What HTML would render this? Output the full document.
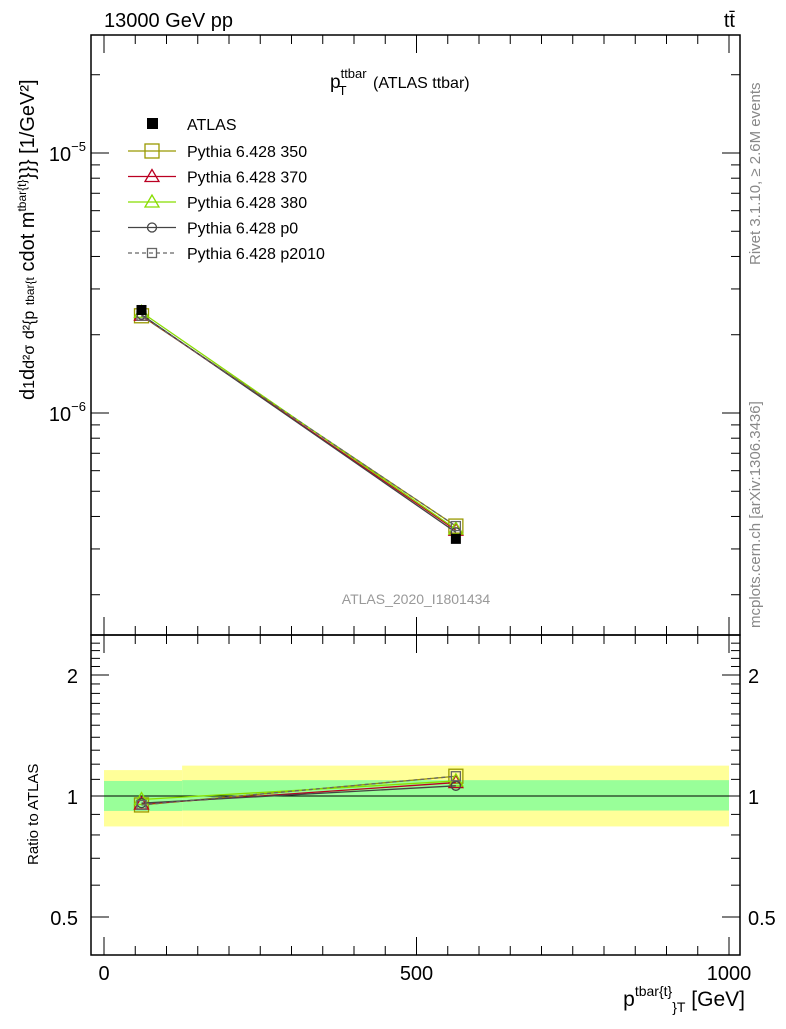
<!DOCTYPE html>
<html><head><meta charset="utf-8"><style>
body{margin:0;background:#fff;}
svg text{font-family:"Liberation Sans",sans-serif;}
</style></head><body>
<svg id="c" width="786" height="1024" xmlns="http://www.w3.org/2000/svg">
<g id="bands"></g>
<rect x="91" y="35" width="649" height="600" fill="none" stroke="#000" stroke-width="1.5"/>
<rect x="91" y="635" width="649" height="320" fill="none" stroke="#000" stroke-width="1.5"/>
<g id="ticks"></g>
<g id="series"></g>
<text x="104" y="27" font-size="20">13000 GeV pp</text>
<text x="735" y="27" font-size="20" text-anchor="end">tt̄</text>
<text x="330" y="88" font-size="19">p<tspan font-size="13" dy="-10">ttbar</tspan><tspan font-size="13" dx="-28" dy="17">T</tspan><tspan font-size="16" dx="22" dy="-7"> (ATLAS ttbar)</tspan></text>
<text x="416" y="604" font-size="14" fill="#999" text-anchor="middle">ATLAS_2020_I1801434</text>
<text transform="translate(760,265) rotate(-90)" font-size="15" fill="#888">Rivet 3.1.10, ≥ 2.6M events</text>
<text transform="translate(760,628) rotate(-90)" font-size="15" fill="#888">mcplots.cern.ch [arXiv:1306.3436]</text>
<text transform="translate(34,400) rotate(-90)" font-size="20">d<tspan font-size="16">1</tspan>d<tspan font-size="16">d²σ</tspan> <tspan font-size="16">d²{p</tspan> <tspan font-size="12">tbar{t</tspan>  cdot m<tspan font-size="12" dy="-8">tbar{t}</tspan><tspan dy="8">}}} [1/GeV²]</tspan></text>
<text transform="translate(38,865) rotate(-90)" font-size="15">Ratio to ATLAS</text>
<text x="745" y="1006" font-size="21" text-anchor="end">p<tspan font-size="14" dy="-10">tbar{t}</tspan><tspan font-size="14" dy="16">}</tspan><tspan font-size="14" dy="0">T</tspan><tspan dy="-6"> [GeV]</tspan></text>
<g id="legend"></g>
</svg>
<script>
const binEdges=[0,125,1000];
const xCenters=[60,563];
const atlas=[2.49e-6,3.28e-7];
const yellowLo=[0.84,0.84], yellowHi=[1.16,1.19];
const greenLo=[0.918,0.92], greenHi=[1.09,1.095];
const seriesNames=["Pythia 6.428 350","Pythia 6.428 370","Pythia 6.428 380","Pythia 6.428 p0","Pythia 6.428 p2010"];
const r350=[0.95,1.12], r370=[0.955,1.08], r380=[0.98,1.09], rp0=[0.96,1.06], rp2010=[0.95,1.12];
const yTickLabels=["10","10"];
const xTicks=[0,500,1000];
const ratioTicks=[0.5,1,2];

const NS="http://www.w3.org/2000/svg";
const X=v=>104+v*0.625;
const Y=v=>153-(Math.log10(v)+5)*260;
const R=v=>796-121*Math.log2(v);
function mk(t,a,p){const e=document.createElementNS(NS,t);for(const k in a)e.setAttribute(k,a[k]);(p||document.getElementById('c')).appendChild(e);return e;}
const B=document.getElementById('bands'),T=document.getElementById('ticks'),S=document.getElementById('series'),L=document.getElementById('legend');
for(let i=0;i<2;i++){
 const y=mk('rect',{x:X(binEdges[i]),y:R(yellowHi[i]),width:X(binEdges[i+1])-X(binEdges[i]),height:R(yellowLo[i])-R(yellowHi[i]),fill:'#ffff99'},B);
 
 
 const g=mk('rect',{x:X(binEdges[i]),y:R(greenHi[i]),width:X(binEdges[i+1])-X(binEdges[i]),height:R(greenLo[i])-R(greenHi[i]),fill:'#99ff99'},B);
 
 
}
mk('line',{x1:91,x2:740,y1:R(1),y2:R(1),stroke:'#000','stroke-width':1},B);
// y log ticks main
for(let d=-7;d<=-5;d++)for(let m=1;m<10;m++){const v=m*Math.pow(10,d);const y=Y(v);if(y<36||y>634)continue;const len=m==1?18:9;
 mk('line',{x1:91,x2:91+len,y1:y,y2:y,stroke:'#000'},T);mk('line',{x1:740,x2:740-len,y1:y,y2:y,stroke:'#000'},T);}
[[-5,153],[-6,413]].forEach(([e])=>{const t=mk('text',{x:86,y:Y(Math.pow(10,e))+8,'font-size':20,'text-anchor':'end'},T);t.innerHTML='10<tspan font-size="13" dy="-10">'+e.toString().replace('-','−')+'</tspan>';
 
 });
// ratio ticks
for(let v=0.4;v<=2.5;v+=0.1){const y=R(v);if(y<636||y>954)continue;const maj=ratioTicks.some(r=>Math.abs(r-v)<1e-6);const len=maj?18:9;
 mk('line',{x1:91,x2:91+len,y1:y,y2:y,stroke:'#000'},T);mk('line',{x1:740,x2:740-len,y1:y,y2:y,stroke:'#000'},T);}
ratioTicks.forEach(r=>{const a=mk('text',{x:78,y:R(r)+8,'font-size':20,'text-anchor':'end'},T);a.textContent=r;
 
 
 const b=mk('text',{x:748,y:R(r)+8,'font-size':20},T);b.textContent=r;
 
 });
// x ticks
for(let v=0;v<=1000;v+=50){const maj=v%500==0;const len=maj?18:9;
 mk('line',{x1:X(v),x2:X(v),y1:955,y2:955-len,stroke:'#000'},T);mk('line',{x1:X(v),x2:X(v),y1:635,y2:635-len,stroke:'#000'},T);mk('line',{x1:X(v),x2:X(v),y1:35,y2:35+len,stroke:'#000'},T);mk('line',{x1:X(v),x2:X(v),y1:635,y2:635+len,stroke:'#000'},T);}
xTicks.forEach(v=>{const t=mk('text',{x:X(v),y:980,'font-size':20,'text-anchor':'middle'},T);t.textContent=v;
 
 });
// series
const styles=[{c:'#999900',m:'sq',r:r350},{c:'#bb0022',m:'tri',r:r370},{c:'#88dd00',m:'tri',r:r380},{c:'#444',m:'circ',r:rp0},{c:'#666',m:'sqs',r:rp2010,dash:'4,3'}];
function marker(m,x,y,c,p){if(m=='sq')return mk('rect',{x:x-7,y:y-7,width:14,height:14,fill:'none',stroke:c,'stroke-width':1.3},p);
 if(m=='sqs')return mk('rect',{x:x-4.5,y:y-4.5,width:9,height:9,fill:'none',stroke:c,'stroke-width':1.3},p);
 if(m=='tri')return mk('polygon',{points:`${x},${y-7} ${x-7},${y+5} ${x+7},${y+5}`,fill:'none',stroke:c,'stroke-width':1.3},p);
 return mk('circle',{cx:x,cy:y,r:4.5,fill:'none',stroke:c,'stroke-width':1.3},p);}
styles.forEach((s,k)=>{
 const pm=xCenters.map((x,i)=>[X(x),Y(atlas[i]*s.r[i])]);
 const pr=xCenters.map((x,i)=>[X(x),R(s.r[i])]);
 [pm,pr].forEach(pts=>{const l=mk('polyline',{points:pts.map(p=>p.join(',')).join(' '),fill:'none',stroke:s.c,'stroke-width':1.3,'stroke-dasharray':s.dash||'none'},S);
  
  
  pts.forEach(p=>{const m=marker(s.m,p[0],p[1],s.c,S);
   
   });});
});
atlas.forEach((v,i)=>{const r=mk('rect',{x:X(xCenters[i])-5,y:Y(v)-5,width:10,height:10,fill:'#000'},S);
 
 });
// legend
const lr=mk('rect',{x:147,y:118,width:11,height:11,fill:'#000'},L);


const lt=mk('text',{x:187,y:130,'font-size':16},L);lt.textContent='ATLAS';


styles.forEach((s,k)=>{const y=151+k*25.5;
 mk('line',{x1:128,x2:176,y1:y,y2:y,stroke:s.c,'stroke-width':1.3,'stroke-dasharray':s.dash||'none'},L);
 marker(s.m,152,y,s.c,L);
 const t=mk('text',{x:187,y:y+6,'font-size':16},L);t.textContent=seriesNames[k];
 
 });
</script>
</body></html>
